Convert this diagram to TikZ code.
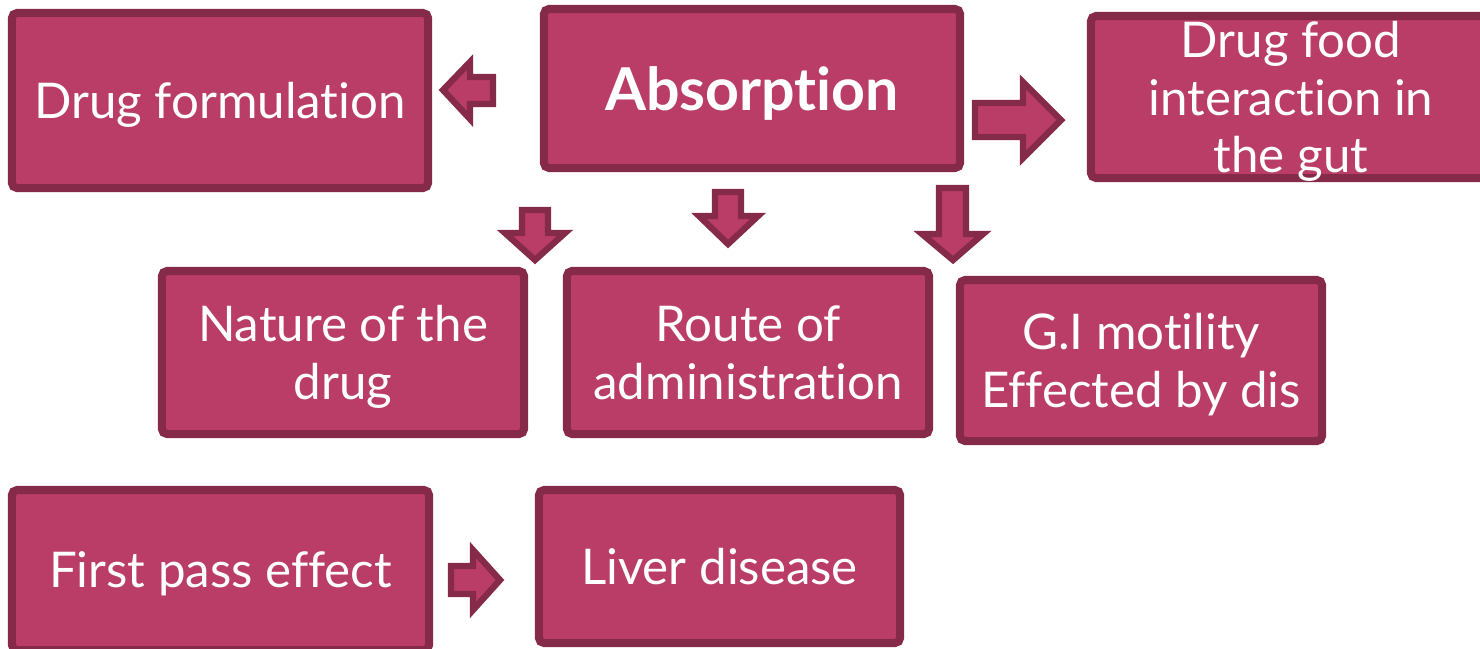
\documentclass[tikz,border=0pt]{standalone}
\usepackage{fontspec}
\setmainfont{Lato}[Ligatures=NoCommon]
\definecolor{boxfill}{RGB}{185,61,103}
\definecolor{boxline}{RGB}{134,42,74}
\tikzset{
	box/.style={draw=boxline, fill=boxfill, line width=2.3pt, rounded corners=1.5pt,
		text=white, align=center, inner sep=0pt, text depth=0pt, font=\fontsize{14}{16.4}\selectfont},
	barrow/.style={draw=boxline, fill=boxfill, line width=1.8pt, line join=miter}
}
\begin{document}
\begin{tikzpicture}[x=0.01cm, y=-0.01cm]
		
		\useasboundingbox (0,0) rectangle (1480,648);
		
		% top row
		\node[box, minimum width=4.16cm, minimum height=1.75cm] (form) at (220,100.5) {Drug formulation};
		\node[box, minimum width=4.16cm, minimum height=1.59cm, font=\fontsize{16.8}{20}\bfseries] (abs) at (752,88.5) {Absorption};
		\node[box, minimum width=4.00cm, minimum height=1.62cm] (food) at (1291,97) {Drug food\\interaction in\\the gut};
		
		% middle row
		\node[box, minimum width=3.62cm, minimum height=1.63cm] (nature) at (343,352.5) {Nature of the\\drug};
		\node[box, minimum width=3.62cm, minimum height=1.63cm] (route) at (748,352.5) {Route of\\administration};
		\node[box, minimum width=3.62cm, minimum height=1.61cm] (gi) at (1141,360.5) {G.I motility\\Effected by dis};
		
		% bottom row
		\node[box, minimum width=4.17cm, minimum height=1.60cm] (first) at (220.5,570) {First pass effect};
		\node[box, minimum width=3.61cm, minimum height=1.53cm] (liver) at (719.5,566.5) {Liver disease};
		
		% block arrows
		\draw[barrow] (443,90) -- (470,62) -- (470,77) -- (493,77) -- (493,104) -- (470,104) -- (470,119) -- cycle;
		\draw[barrow] (975,103) -- (1023,103) -- (1023,82) -- (1061,120) -- (1023,158) -- (1023,137) -- (975,137) -- cycle;
		\draw[barrow] (522,210) -- (548,210) -- (548,233) -- (565,233) -- (535,260) -- (505,233) -- (522,233) -- cycle;
		\draw[barrow] (715,192) -- (741,192) -- (741,216) -- (758,216) -- (728,244) -- (699,216) -- (715,216) -- cycle;
		\draw[barrow] (939,188) -- (966,188) -- (966,234) -- (983,234) -- (953,260) -- (922,234) -- (939,234) -- cycle;
		\draw[barrow] (451,566) -- (473,566) -- (473,550) -- (500,580) -- (473,610) -- (473,594) -- (451,594) -- cycle;
		
\end{tikzpicture}
\end{document}
